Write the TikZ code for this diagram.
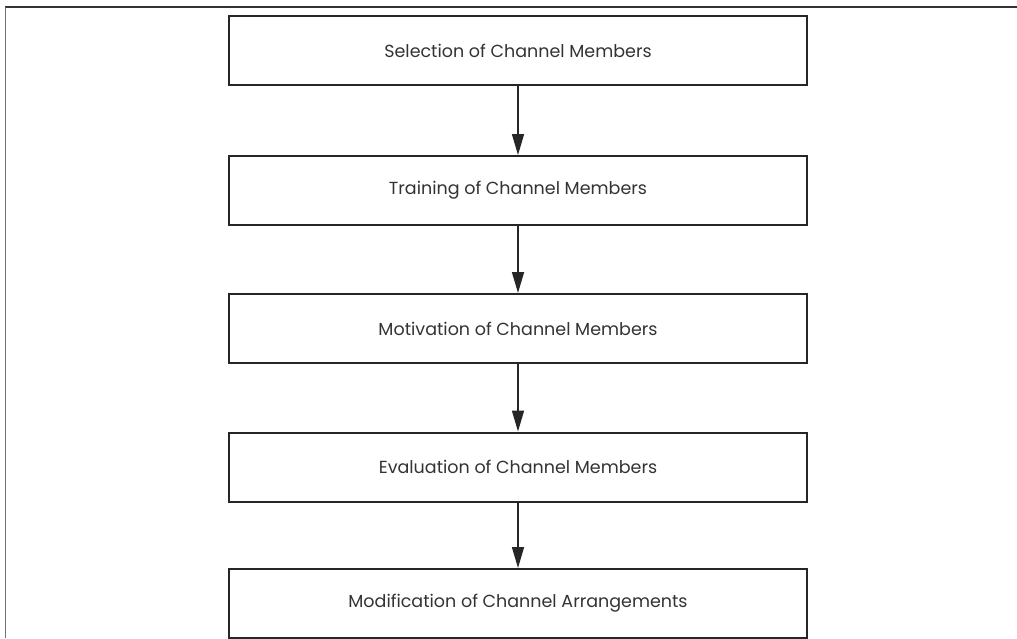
\documentclass[tikz,border=0pt]{standalone}
\usepackage{fontspec}
\setmainfont{Poppins}
\usetikzlibrary{arrows.meta}

\tikzset{
  stagebox/.style={draw=black!85, line width=2pt, minimum width=578pt,
    minimum height=69pt, inner sep=0pt, font=\fontsize{17.5}{20}\selectfont,
    text=black!80},
  flowarrow/.style={draw=black!85, line width=1.6pt,
    -{Triangle[length=21pt,width=12pt]}},
  framerule/.style={line width=1.5pt, draw=black!80}
}

\begin{document}
\begin{tikzpicture}[x=1pt, y=-1pt]
  \useasboundingbox (0,0) rectangle (1017,638);

  % outer frame (top and left edges only)
  \coordinate (fTL) at (5,7);
  \coordinate (fTR) at (1017,7);
  \coordinate (fBL) at (5,638);
  \draw[framerule] (fTR) -- (fTL);
  \draw[line width=1pt, draw=black!55] (fTL) -- (fBL);

  % the five stages
  \node[stagebox] (sel) at (518,50.5)  {Selection of Channel Members};
  \node[stagebox] (trn) at (518,190.5) {Training of Channel Members};
  \node[stagebox] (mot) at (518,328.5) {Motivation of Channel Members};
  \node[stagebox] (evl) at (518,467)   {Evaluation of Channel Members};
  \node[stagebox] (mod) at (518,603.5) {Modification of Channel Arrangements};

  % connectors
  \draw[flowarrow] (sel) -- (trn);
  \draw[flowarrow] (trn) -- (mot);
  \draw[flowarrow] (mot) -- (evl);
  \draw[flowarrow] (evl) -- (mod);
\end{tikzpicture}
\end{document}
